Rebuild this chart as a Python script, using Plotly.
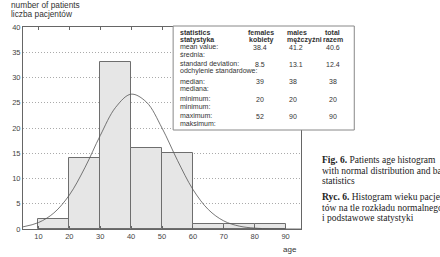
import plotly.graph_objects as go

# ---- data ----
bin_centers = [15, 25, 35, 45, 55, 65, 75, 85]
bin_counts = [2, 14, 33, 16, 15, 1, 1, 1]
curve_x = [5, 10, 15, 20, 25, 30, 35, 40, 45, 50, 55, 60, 65, 70, 75, 80, 85, 90, 95]
curve_y = [0.43, 1.27, 3.18, 6.72, 12.1, 18.5, 24.1, 26.7, 25.1, 20.0, 13.6, 7.85,
           3.85, 1.60, 0.57, 0.17, 0.04, 0.01, 0.0]
x_ticks = [10, 20, 30, 40, 50, 60, 70, 80, 90]
y_ticks = [0, 5, 10, 15, 20, 25, 30, 35, 40]

stat_labels_en = ["mean value:", "standard deviation:", "median:", "minimum:", "maximum:"]
stat_labels_pl = ["średnia:", "odchylenie standardowe:", "mediana:", "minimum:", "maksimum:"]
females = ["38.4", "8.5", "39", "20", "52"]
males = ["41.2", "13.1", "38", "20", "90"]
total = ["40.6", "12.4", "38", "20", "90"]

caption = [
    "<b>Fig. 6.</b> Patients age histogram",
    "with normal distribution and basic",
    "statistics",
    "<b>Ryc. 6.</b> Histogram wieku pacjen-",
    "tów na tle rozkładu normalnego",
    "i podstawowe statystyki",
]

W, H = 440, 257
L, R, T, B = 14, 301, 27, 229


def px(x):
    return (x - L) / (R - L)


def py(y):
    return (B - y) / (B - T)


fig = go.Figure()
fig.add_trace(go.Bar(x=bin_centers, y=bin_counts, width=10,
                     marker=dict(color="#e6e6e6", line=dict(color="#6e6e6e", width=1)),
                     hoverinfo="skip"))
fig.add_trace(go.Scatter(x=curve_x, y=curve_y, mode="lines",
                         line=dict(color="#555555", width=0.8, shape="spline"),
                         hoverinfo="skip"))

ann = []
sans = "Liberation Sans, Arial, sans-serif"
serif = "Liberation Serif, Times New Roman, serif"


def add(text, x, y, size=7, anchor="left", family=sans, color="#333333"):
    ann.append(dict(text=text, x=px(x), y=py(y), xref="paper", yref="paper",
                    showarrow=False, xanchor=anchor, yanchor="middle",
                    font=dict(family=family, size=size, color=color)))


# axis titles
add("number of patients", 0, 5, size=8.3)
add("liczba pacjentów", 0, 14, size=8.3)
add("age", 290, 249, size=8, anchor="center")
add("wiek", 290, 259, size=8, anchor="center")

# table
add("<b>statistics</b>", 174, 32)
add("<b>statystyka</b>", 174, 39.5)
add("<b>females</b>", 260, 32, anchor="center")
add("<b>kobiety</b>", 260, 39.5, anchor="center")
add("<b>males</b>", 284, 32)
add("<b>mężczyźni</b>", 284, 39.5)
add("<b>total</b>", 334, 32, anchor="center")
add("<b>razem</b>", 334, 39.5, anchor="center")
row_y = [46.5, 63.5, 81, 98.5, 116]
for i, y in enumerate(row_y):
    add(stat_labels_en[i], 174, y)
    add(stat_labels_pl[i], 174, y + 7.5)
    add(females[i], 259, y + 0.5, anchor="center")
    add(males[i], 287, y + 0.5)
    add(total[i], 334, y + 0.5, anchor="center")

# caption
cap_y = [160, 170.5, 181, 197, 207.5, 218]
for t, y in zip(caption, cap_y):
    add(t, 321, y, size=9.5, family=serif, color="#222222")

fig.update_layout(
    width=W, height=H,
    margin=dict(l=L, r=W - R, t=T, b=H - B),
    paper_bgcolor="white", plot_bgcolor="white",
    showlegend=False, bargap=0,
    annotations=ann,
    shapes=[dict(type="rect", xref="paper", yref="paper",
                 x0=px(169), x1=px(356), y0=py(130), y1=py(26),
                 fillcolor="white", line=dict(color="#888888", width=1),
                 layer="above")],
    xaxis=dict(range=[5, 95], tickvals=x_ticks, ticks="inside", ticklen=3,
               tickcolor="#666666", showline=True, linecolor="#666666", linewidth=1,
               mirror="ticks", showgrid=False, zeroline=False,
               tickfont=dict(family=sans, size=7.5, color="#444444")),
    yaxis=dict(range=[0, 40], tickvals=y_ticks, ticks="", showline=True,
               linecolor="#666666", linewidth=1, mirror=True,
               showgrid=True, gridcolor="#aaaaaa", gridwidth=1, griddash="1px,2px",
               zeroline=False,
               tickfont=dict(family=sans, size=7.5, color="#444444")),
)

fig.write_html("out.html")
